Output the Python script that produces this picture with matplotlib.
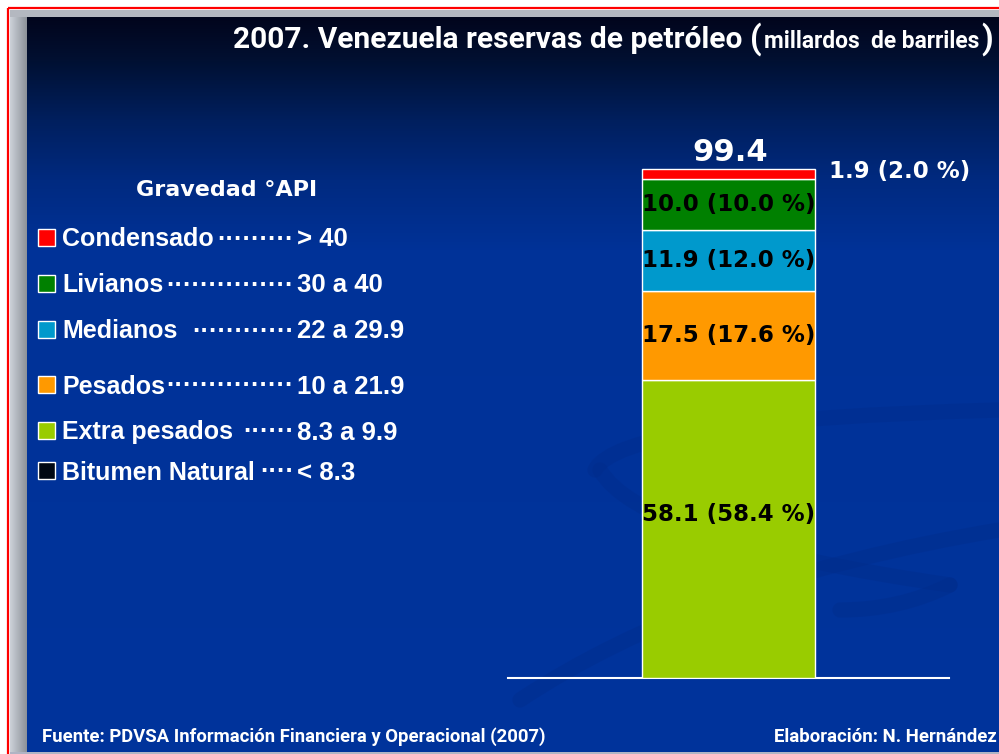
#!/usr/bin/env python3
"""
2007. Venezuela reservas de petroleo (millardos de barriles)
Stacked single bar by API gravity class, slide-style layout.
Output: out.png
"""

import numpy as np
import matplotlib; matplotlib.use('Agg')
import matplotlib.pyplot as plt
from matplotlib.patches import Rectangle, PathPatch
from matplotlib.path import Path

# --- data -------------------------------------------------------------------
categories  = ['Condensado', 'Livianos', 'Medianos', 'Pesados', 'Extra pesados', 'Bitumen Natural']
api_ranges  = ['> 40', '30 a 40', '22 a 29.9', '10 a 21.9', '8.3 a 9.9', '< 8.3']
leader_dots = [9, 15, 12, 15, 6, 4]
cat_colors  = ['#ff0000', '#008000', '#0099cc', '#ff9900', '#99cc00', '#000814']

# bar stack, bottom to top
stack_cats  = ['Extra pesados', 'Pesados', 'Medianos', 'Livianos', 'Condensado']
reserves    = [58.1, 17.5, 11.9, 10.0, 1.9]
shares      = [58.4, 17.6, 12.0, 10.0, 2.0]
total       = 99.4

title_main  = '2007. Venezuela reservas de petróleo'
title_unit  = 'millardos  de barriles'
source_txt  = 'Fuente: PDVSA Información Financiera y Operacional (2007)'
author_txt  = 'Elaboración: N. Hernández'

W, H = 999, 754
NARROW = ['Liberation Sans Narrow', 'Roboto', 'Liberation Sans']

fig = plt.figure(figsize=(W / 100, H / 100), dpi=100, facecolor='white')
bg = fig.add_axes([0, 0, 1, 1])
bg.set_xlim(0, W); bg.set_ylim(H, 0); bg.axis('off')
renderer = fig.canvas.get_renderer()

# slide frame: red outline, grey bevel, blue gradient
bg.add_patch(Rectangle((8, 8), W, H, fill=False, edgecolor='#ff0000', lw=1.6))
grey = np.linspace(0, 1, 40)[None, :, None] * (np.array([0.55, 0.57, 0.60]) - np.array([0.80, 0.82, 0.85])) \
       + np.array([0.80, 0.82, 0.85])
bg.imshow(grey, extent=(10, 27, H - 1, 10), aspect='auto', zorder=1)
bg.add_patch(Rectangle((10, 10), W, 7, color='#b4b8c0', lw=0, zorder=1))
bg.add_patch(Rectangle((10, H - 2), W, 2, color='#b0b4c4', lw=0, zorder=1))

stops_y = [17, 60, 120, 180, 250, 754]
stops_c = np.array([[0x01, 0x05, 0x1c], [0x01, 0x10, 0x32], [0x00, 0x1f, 0x5e],
                    [0x00, 0x2a, 0x80], [0x00, 0x32, 0x98], [0x00, 0x34, 0x9c]]) / 255
ys = np.arange(17, H - 2)
grad = np.stack([np.interp(ys, stops_y, stops_c[:, k]) for k in range(3)], axis=-1)[:, None, :]
bg.imshow(grad, extent=(27, W, H - 2, 17), aspect='auto', zorder=2)

# faint swirl watermark behind the bar
swirls = [
    [(520, 700), (700, 580), (999, 530)],
    [(595, 470), (620, 420), (999, 410)],
    [(600, 470), (640, 540), (950, 585)],
    [(950, 585), (900, 610), (840, 610)],
]
for (p0, p1, p2) in swirls:
    path = Path([p0, p1, p2], [Path.MOVETO, Path.CURVE3, Path.CURVE3])
    bg.add_patch(PathPatch(path, fill=False, edgecolor='#002a86', lw=11, alpha=0.3,
                           capstyle='round', zorder=3))


def fit(x, y, s, width, **kw):
    t = bg.text(x, y, s, zorder=5, **kw)
    w = t.get_window_extent(renderer).width
    t.set_fontsize(t.get_fontsize() * width / w)
    return t


# title
fit(233, 48, title_main, 509, color='white', fontsize=22, fontweight='bold',
    family=NARROW, va='baseline')
bg.text(750, 49, '(', color='white', fontsize=24, fontweight='bold', family=NARROW,
        va='baseline', zorder=5)
fit(764, 48, title_unit, 216, color='white', fontsize=16, fontweight='bold',
    family=NARROW, va='baseline')
bg.text(981, 49, ')', color='white', fontsize=24, fontweight='bold', family=NARROW,
        va='baseline', zorder=5)

# legend block
fit(227, 196, 'Gravedad °API', 181, color='white', fontsize=16, fontweight='bold',
    family='DejaVu Sans', ha='center', va='baseline')
row_y = [237, 283, 329, 384, 430, 470]
for name, rng, nd, col, yc in zip(categories, api_ranges, leader_dots, cat_colors, row_y):
    bg.add_patch(Rectangle((38, yc - 8.5), 17, 17, facecolor=col, edgecolor='white',
                           lw=1, zorder=5))
    bg.text(62, yc + 9.5, name, color='white', fontsize=18, fontweight='bold',
            family='Liberation Sans', va='baseline', zorder=5)
    bg.text(294, yc + 9.5, '·' * nd, color='white', fontsize=18.3, fontweight='bold',
            family='Liberation Sans', ha='right', va='baseline', zorder=5)
    bg.text(297, yc + 9.5, rng, color='white', fontsize=18.5, fontweight='bold',
            family='Liberation Sans', va='baseline', zorder=5)

# footer
fit(42, 742, source_txt, 501, color='white', fontsize=13, fontweight='bold',
    family=NARROW, va='baseline')
fit(997, 742, author_txt, 222, color='white', fontsize=13, fontweight='bold',
    family=NARROW, ha='right', va='baseline')

# stacked bar
base_px, top_px, px_per_unit = 678, 130, 509 / 99.4
ax = fig.add_axes([508 / W, (H - base_px) / H, 441 / W, (base_px - top_px) / H])
ax.set_facecolor('none')
ax.set_xlim(-1, 1)
ax.set_ylim(0, (base_px - top_px) / px_per_unit)
for s in ['top', 'left', 'right']:
    ax.spines[s].set_visible(False)
ax.spines['bottom'].set_color('white')
ax.spines['bottom'].set_linewidth(1.5)
ax.set_xticks([]); ax.set_yticks([])

color_of = dict(zip(categories, cat_colors))
bar_w = 0.789
bottom = 0.0
for cat, val, pct in zip(stack_cats, reserves, shares):
    ax.bar(0, val, bar_w, bottom=bottom, color=color_of[cat], edgecolor='white',
           linewidth=1, zorder=3)
    lab = f'{val:.1f} ({pct:.1f} %)'
    if val > 5:
        # the large bottom block has its label sitting a bit above the middle
        ymid = bottom + val * (0.55 if val > 40 else 0.5)
        ax.text(0, ymid, lab, ha='center', va='center', color='black',
                fontsize=16.5, fontweight='bold', family='DejaVu Sans', zorder=4)
    else:
        ax.annotate(lab, xy=(bar_w / 2, bottom + val), xytext=(10, -2),
                    textcoords='offset points', ha='left', va='center', color='white',
                    fontsize=16.5, fontweight='bold', family='DejaVu Sans', zorder=4)
    bottom += val

ax.annotate(f'{total:.1f}', xy=(0, total), xytext=(1, 6), textcoords='offset points',
            ha='center', va='baseline', color='white', fontsize=22, fontweight='bold',
            family='DejaVu Sans', zorder=4)

fig.savefig('out.png', dpi=100, facecolor=fig.get_facecolor())
plt.close(fig)
